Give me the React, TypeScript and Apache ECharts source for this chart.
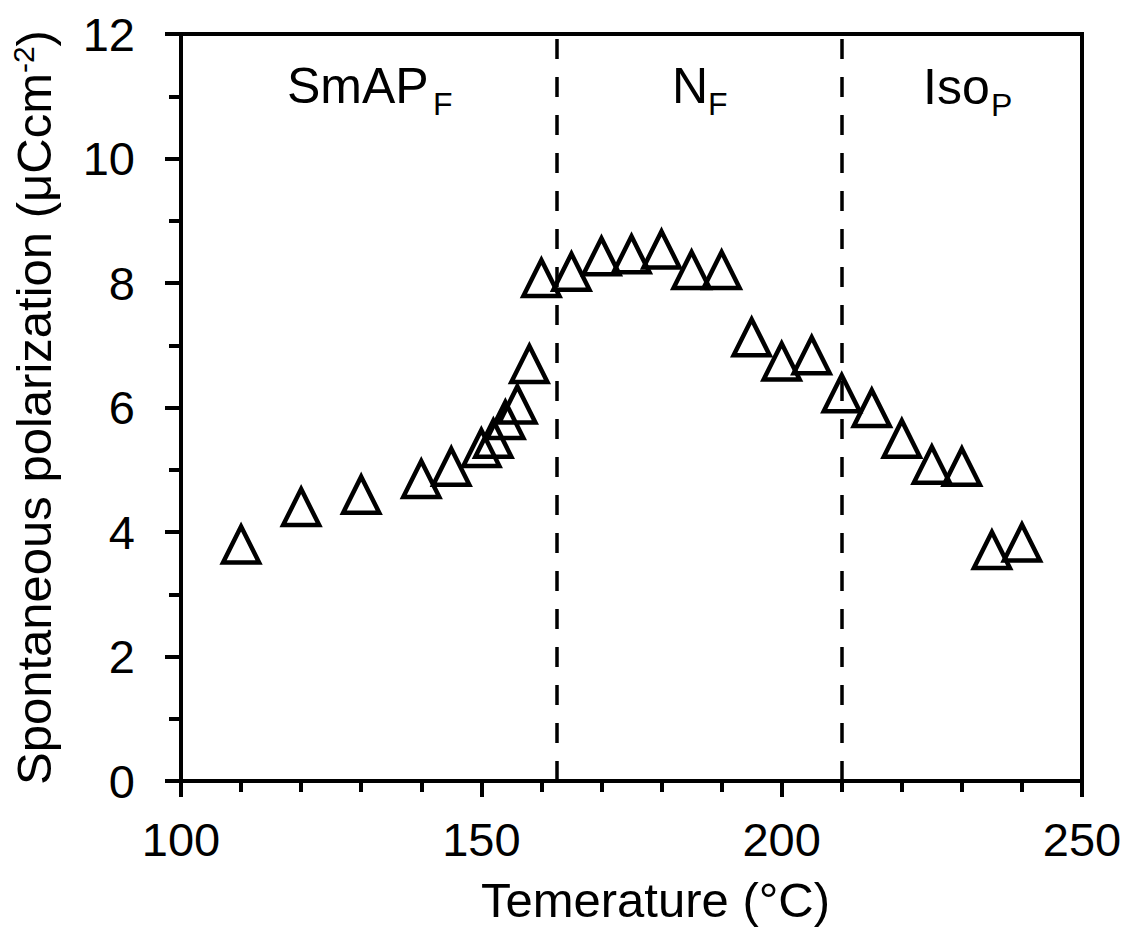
import React, { useEffect, useRef } from "react";
import * as echarts from "echarts";

const temperatures = [110, 120, 130, 140, 145, 150, 152, 154, 156, 158, 160, 165, 170, 175, 180, 185, 190, 195, 200, 205, 210, 215, 220, 225, 230, 235, 240];
const polarization = [3.8, 4.4, 4.6, 4.85, 5.05, 5.35, 5.5, 5.8, 6.05, 6.7, 8.08, 8.18, 8.43, 8.46, 8.54, 8.21, 8.21, 7.13, 6.74, 6.84, 6.23, 5.99, 5.5, 5.08, 5.05, 3.71, 3.83];
const phaseBoundaries = [162.5, 210];
const phaseLabels = [
  { main: "SmAP", sub: "F" },
  { main: "N", sub: "F" },
  { main: "Iso", sub: "P" },
];

const FONT = "'Liberation Sans', Arial, Helvetica, sans-serif";

export default function App() {
  const ref = useRef<HTMLDivElement>(null);
  useEffect(() => {
    if (!ref.current) return;
    const chart = echarts.init(ref.current, undefined, { renderer: "svg" });
    const labelPos = [
      { x: 287, sx: 433, y: 86, sy: 104 },
      { x: 672, sx: 708, y: 86, sy: 104 },
      { x: 923, sx: 991, y: 87, sy: 105 },
    ];
    const graphics: any[] = [];
    phaseLabels.forEach((p, i) => {
      const pos = labelPos[i];
      graphics.push({
        type: "text",
        x: pos.x,
        y: pos.y,
        style: { text: p.main, font: `50px ${FONT}`, fill: "#000", verticalAlign: "middle", align: "left" },
      });
      graphics.push({
        type: "text",
        x: pos.sx,
        y: pos.sy,
        style: { text: p.sub, font: `32px ${FONT}`, fill: "#000", verticalAlign: "middle", align: "left" },
      });
    });
    chart.setOption({
      animation: false,
      backgroundColor: "#fff",
      grid: {
        left: 181,
        right: 45,
        top: 34,
        bottom: 149,
        show: true,
        borderColor: "#000",
        borderWidth: 4,
        backgroundColor: "transparent",
      },
      xAxis: {
        type: "value",
        min: 100,
        max: 250,
        interval: 50,
        name: "Temerature (°C)",
        nameLocation: "middle",
        nameGap: 94,
        nameTextStyle: { fontSize: 49, color: "#000", fontFamily: FONT, padding: [0, 0, 0, 48] },
        axisLine: { show: true, lineStyle: { color: "#000", width: 4 } },
        axisTick: { show: true, length: 16, lineStyle: { color: "#000", width: 4 } },
        minorTick: { show: true, splitNumber: 5, length: 11, lineStyle: { color: "#000", width: 4 } },
        axisLabel: { fontSize: 47, color: "#000", fontFamily: FONT, margin: 35 },
        splitLine: { show: false },
      },
      yAxis: {
        type: "value",
        min: 0,
        max: 12,
        interval: 2,
        name: "Spontaneous polarization (μCcm{sup|-2})",
        nameLocation: "middle",
        nameGap: 121,
        nameTextStyle: {
          fontSize: 49,
          color: "#000",
          fontFamily: FONT,
          rich: {
            sup: { fontSize: 30, color: "#000", fontFamily: FONT, verticalAlign: "top", padding: [0, 0, 22, 0] },
          },
        },
        axisLine: { show: true, lineStyle: { color: "#000", width: 4 } },
        axisTick: { show: true, length: 16, lineStyle: { color: "#000", width: 4 } },
        minorTick: { show: true, splitNumber: 2, length: 12, lineStyle: { color: "#000", width: 4 } },
        axisLabel: { fontSize: 47, color: "#000", fontFamily: FONT, margin: 46 },
        splitLine: { show: false },
      },
      graphic: graphics,
      series: [
        {
          type: "scatter",
          data: temperatures.map((t, i) => [t, polarization[i]]),
          symbol: "triangle",
          symbolSize: 36,
          itemStyle: { color: "rgba(255,255,255,0)", borderColor: "#000", borderWidth: 4.5, opacity: 1 },
          markLine: {
            silent: true,
            symbol: ["none", "none"],
            label: { show: false },
            lineStyle: { color: "#000", width: 3.5, type: [20, 18], opacity: 1 },
            data: phaseBoundaries.map((b) => ({ xAxis: b })),
          },
        },
      ],
    });
    return () => chart.dispose();
  }, []);
  return <div ref={ref} style={{ position: "fixed", left: 0, top: 0, width: 1127, height: 930 }} />;
}
